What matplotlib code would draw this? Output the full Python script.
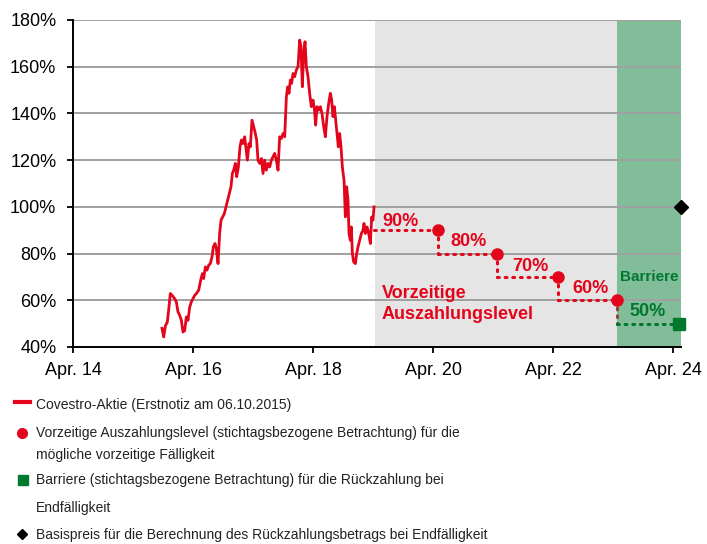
import matplotlib
matplotlib.use("Agg")
import matplotlib.pyplot as plt
from matplotlib.lines import Line2D

plt.rcParams['font.family'] = ['Liberation Sans', 'DejaVu Sans']

# ---------------- data ----------------
stock_years = [2015.733, 2015.761, 2015.789, 2015.822, 2015.844, 2015.872, 2015.906, 2015.944,
               2015.972, 2016.000, 2016.028, 2016.056, 2016.083, 2016.111, 2016.139, 2016.167,
               2016.194, 2016.222, 2016.250, 2016.278, 2016.306, 2016.344, 2016.378, 2016.406,
               2016.428, 2016.456, 2016.483, 2016.511, 2016.539, 2016.567, 2016.589, 2016.617,
               2016.639, 2016.667, 2016.694, 2016.717, 2016.744, 2016.772, 2016.800, 2016.828,
               2016.856, 2016.883, 2016.906, 2016.928, 2016.956, 2016.978, 2017.006, 2017.033,
               2017.056, 2017.083, 2017.111, 2017.133, 2017.156, 2017.183, 2017.206, 2017.233,
               2017.261, 2017.283, 2017.311, 2017.333, 2017.361, 2017.389, 2017.417, 2017.444,
               2017.472, 2017.500, 2017.528, 2017.556, 2017.583, 2017.611, 2017.639, 2017.667,
               2017.694, 2017.722, 2017.750, 2017.778, 2017.806, 2017.828, 2017.850, 2017.872,
               2017.894, 2017.917, 2017.944, 2017.972, 2018.000, 2018.028, 2018.050, 2018.072,
               2018.094, 2018.117, 2018.139, 2018.167, 2018.194, 2018.222, 2018.250, 2018.272,
               2018.294, 2018.317, 2018.344, 2018.372, 2018.400, 2018.428, 2018.456, 2018.483,
               2018.511, 2018.539, 2018.561, 2018.583, 2018.606, 2018.628, 2018.650, 2018.672,
               2018.694, 2018.717, 2018.739, 2018.767, 2018.789, 2018.811, 2018.833, 2018.850,
               2018.872, 2018.889, 2018.906, 2018.928, 2018.956, 2018.978, 2019.000, 2019.028,
               2019.056, 2019.083, 2019.100, 2019.122, 2019.150, 2019.178, 2019.206, 2019.228,
               2019.250, 2019.267]
stock_values = [48.0, 44.3, 49.0, 50.7, 55.7, 62.9, 62.0, 60.7,
                59.3, 55.0, 53.6, 51.4, 46.4, 47.0, 52.9, 51.4,
                57.0, 59.3, 60.7, 62.1, 62.9, 64.3, 68.6, 71.4,
                69.3, 74.3, 72.9, 75.0, 75.7, 78.6, 82.9, 84.3,
                82.1, 75.7, 88.6, 94.3, 95.7, 97.1, 100.0, 102.9,
                105.7, 108.6, 114.3, 115.7, 118.6, 112.9, 117.1, 125.7,
                128.6, 127.1, 130.0, 125.0, 120.0, 127.1, 125.7, 137.1,
                134.3, 132.1, 128.6, 120.0, 118.6, 120.7, 114.3, 120.0,
                115.7, 118.6, 117.1, 120.0, 121.4, 122.9, 120.0, 115.7,
                130.0, 129.3, 131.4, 130.0, 147.1, 151.4, 148.6, 154.3,
                152.9, 157.1, 155.7, 158.6, 160.0, 171.4, 168.6, 151.4,
                165.7, 170.7, 160.0, 155.7, 148.6, 142.9, 145.7, 142.1,
                135.0, 142.9, 141.4, 142.9, 140.0, 134.3, 130.0, 138.6,
                144.3, 148.6, 145.7, 138.6, 142.9, 137.1, 131.4, 125.7,
                131.4, 125.7, 117.1, 111.4, 95.7, 108.6, 102.9, 88.6,
                85.7, 91.4, 80.0, 76.4, 75.7, 80.0, 82.9, 85.7,
                88.6, 90.0, 92.9, 88.6, 91.4, 88.6, 84.3, 95.7,
                94.3, 100.0]

obs_years = [2020.328, 2021.322, 2022.338, 2023.312]
obs_levels = [90, 80, 70, 60]
obs_labels = ["90%", "80%", "70%", "60%"]

barrier_year = 2024.35
barrier_level = 50
barrier_label = "50%"
strike_year = 2024.378
strike_level = 100

gray_start, green_start, x_end = 2019.283, 2023.317, 2024.383
x_start = 2014.25
tick_years = [2014.25, 2016.25, 2018.25, 2020.25, 2022.25, 2024.25]
tick_labels = ["Apr. 14", "Apr. 16", "Apr. 18", "Apr. 20", "Apr. 22", "Apr. 24"]
y_ticks = [40, 60, 80, 100, 120, 140, 160, 180]

legend_texts = [
    "Covestro-Aktie (Erstnotiz am 06.10.2015)",
    "Vorzeitige Auszahlungslevel (stichtagsbezogene Betrachtung) für die",
    "mögliche vorzeitige Fälligkeit",
    "Barriere (stichtagsbezogene Betrachtung) für die Rückzahlung bei",
    "Endfälligkeit",
    "Basispreis für die Berechnung des Rückzahlungsbetrags bei Endfälligkeit",
]

RED = "#e3051b"
GREEN = "#00792f"
DOT_BROWN = "#8a4632"

# ---------------- figure ----------------
W, H = 707, 544
fig = plt.figure(figsize=(W / 100, H / 100), dpi=100)
ax = fig.add_axes([73 / W, 1 - 347 / H, (681 - 73) / W, (347 - 20) / H])

ax.set_xlim(x_start, x_end)
ax.set_ylim(40, 180)

ax.axvspan(gray_start, green_start, color="#e5e5e5", zorder=0, lw=0)
ax.axvspan(green_start, x_end, color="#82bd99", zorder=0, lw=0)

ax.set_yticks(y_ticks)
ax.set_yticklabels([f"{v}%" for v in y_ticks])
ax.set_xticks(tick_years)
ax.set_xticklabels(tick_labels)
ax.yaxis.grid(True, color="#a0a0a0", lw=1.4, zorder=1)
ax.set_axisbelow(False)
for s in ["top", "right"]:
    ax.spines[s].set_visible(False)
for s in ["left", "bottom"]:
    ax.spines[s].set_linewidth(1.4)
    ax.spines[s].set_color("black")
    ax.spines[s].set_zorder(3)
ax.tick_params(axis="both", direction="out", length=4, width=1.3, labelsize=13,
               colors="black")
ax.tick_params(axis="y", pad=8)
ax.tick_params(axis="x", pad=7)

# stock line
ax.plot(stock_years, stock_values, color=RED, lw=2.0, zorder=4)

# dotted step path for early redemption levels
dot_kw = dict(ls=(0, (0.6, 1.9)), lw=2.2, dash_capstyle="round", zorder=4)
prev_x = stock_years[-1]
for i, (xo, lv) in enumerate(zip(obs_years, obs_levels)):
    ax.plot([prev_x, xo], [lv, lv], color=RED, **dot_kw)
    if i + 1 < len(obs_levels):
        ax.plot([xo, xo], [lv, obs_levels[i + 1]], color=RED, **dot_kw)
    prev_x = xo
ax.plot([obs_years[-1], obs_years[-1]], [obs_levels[-1], barrier_level], color=DOT_BROWN, **dot_kw)
ax.plot([obs_years[-1], barrier_year], [barrier_level, barrier_level], color=GREEN, **dot_kw)

ax.plot(obs_years, obs_levels, "o", color=RED, ms=8, zorder=5)
ax.plot([barrier_year], [barrier_level], "s", color=GREEN, ms=8.5, zorder=5, clip_on=False)
ax.plot([strike_year], [strike_level], "D", color="black", ms=7.5, zorder=5, clip_on=False)

# labels
label_pos = [(2019.70, 93.7), (2020.84, 85.1), (2021.87, 74.4), (2022.87, 65.1)]
for (lx, ly), t in zip(label_pos, obs_labels):
    ax.text(lx, ly, t, color=RED, fontsize=13, fontweight="bold", ha="center", va="center", zorder=6)
ax.text(2023.83, 55.1, barrier_label, color=GREEN, fontsize=13, fontweight="bold",
        ha="center", va="center", zorder=6)
ax.text(2023.86, 70.1, "Barriere", color=GREEN, fontsize=11, fontweight="bold",
        ha="center", va="center", zorder=6)
ax.text(2019.395, 58.4, "Vorzeitige\nAuszahlungslevel", color=RED, fontsize=13,
        fontweight="bold", ha="left", va="center", linespacing=1.25, zorder=6)

# ---------------- legend (manual) ----------------
leg_font = dict(fontsize=10, color="#222222", va="center", ha="left")
ys = [405, 433, 455, 480, 508, 535]
for t, y in zip(legend_texts, ys):
    fig.text(36 / W, 1 - y / H, t, **leg_font)

def fx(x):
    return x / W

def fy(y):
    return 1 - y / H

fig.add_artist(Line2D([fx(15), fx(30)], [fy(401.5), fy(401.5)], color=RED, lw=3,
                      transform=fig.transFigure))
fig.add_artist(Line2D([fx(22.3)], [fy(433)], marker="o", color=RED, ms=7, ls="none",
                      transform=fig.transFigure))
fig.add_artist(Line2D([fx(23.3)], [fy(480)], marker="s", color=GREEN, ms=6.5, ls="none",
                      transform=fig.transFigure))
fig.add_artist(Line2D([fx(22)], [fy(534)], marker="D", color="black", ms=5.5, ls="none",
                      transform=fig.transFigure))

fig.savefig("out.png", dpi=100)
